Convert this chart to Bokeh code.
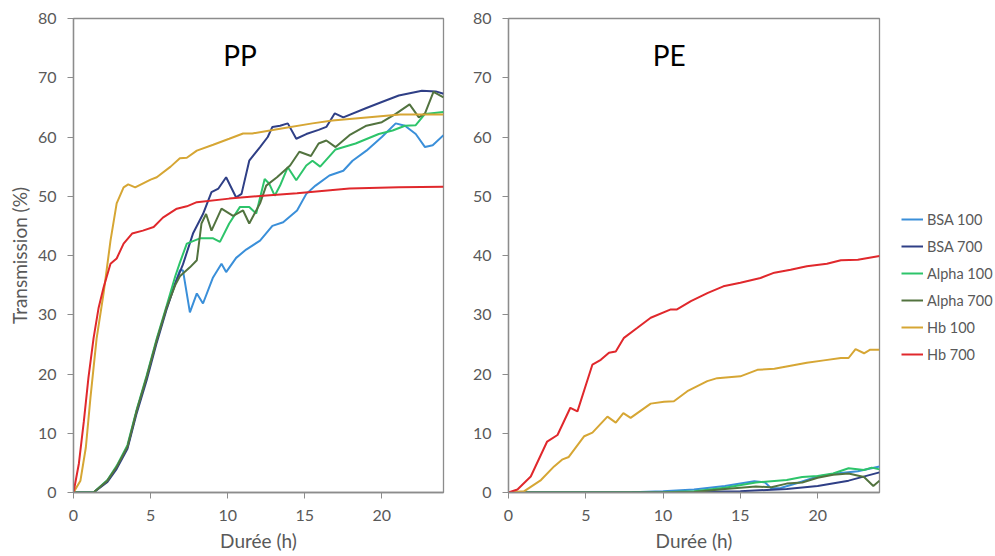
from bokeh.plotting import figure
from bokeh.models import Legend, LegendItem, FixedTicker, Label, Range1d
from bokeh.layouts import row
from bokeh.embed import file_html
from bokeh.resources import INLINE

# ---------------- data: PP panel ----------------
pp_bsa100_t = [0, 1.3, 2.2, 2.8, 3.5, 4.1, 4.75, 5.4, 6.05, 6.6, 6.9, 7.1, 7.55, 8.0, 8.4, 9.05, 9.6, 9.9,
               10.55, 11.2, 12.1, 12.9, 13.6, 14.5, 15.1, 15.7, 16.6, 17.5, 18.1, 19, 20, 20.9, 21.5, 22.2,
               22.8, 23.3, 24]
pp_bsa100_v = [0, 0, 2, 4.3, 7.7, 13.8, 19.5, 25.7, 31.3, 35.3, 37.5, 37.5, 30.4, 33.6, 31.9, 36.3, 38.6, 37.2,
               39.6, 41, 42.5, 45, 45.6, 47.6, 50.4, 51.8, 53.5, 54.3, 56, 57.7, 60, 62.3, 61.9, 60.5,
               58.3, 58.6, 60.3]

pp_bsa700_t = [0, 1.3, 2.2, 2.8, 3.5, 4.1, 4.75, 5.4, 6.05, 6.6, 7.1, 7.75, 8.4, 8.95, 9.4, 9.9, 10.55, 10.9,
               11.4, 12.1, 12.6, 12.9, 13.4, 13.9, 14.45, 15.1, 15.9, 16.4, 16.95, 17.5, 19, 20, 21.1, 22.6,
               23.5, 24]
pp_bsa700_v = [0, 0, 1.8, 4, 7.4, 13.4, 19, 25.3, 31, 35.3, 38.5, 43.7, 47, 50.7, 51.3, 53.2, 49.8, 50.4,
               56, 58.3, 60, 61.7, 61.9, 62.3, 59.7, 60.5, 61.2, 61.7, 64, 63.3, 64.9, 65.9, 67, 67.8,
               67.7, 67.3]

pp_alpha100_t = [0, 1.3, 2.2, 2.8, 3.5, 4.1, 4.75, 5.4, 6.05, 6.6, 6.9, 7.35, 8.2, 9.06, 9.5, 10.1, 10.8, 11.4,
                 11.85, 12.4, 12.7, 13.05, 13.4, 13.9, 14.45, 15.1, 15.5, 16.0, 17, 18.3, 19.8, 20.7, 21.5,
                 22.2, 22.8, 24]
pp_alpha100_v = [0, 0, 2.1, 4.5, 8, 14, 19.8, 26, 31.6, 36.5, 38.8, 42, 42.9, 42.9, 42.3, 45.4, 48.2, 48.2,
                 47.1, 52.9, 52.1, 50.1, 51.8, 54.9, 52.7, 55.2, 56, 55, 57.9, 58.9, 60.5, 61.1, 61.9,
                 62, 63.9, 64.2]

pp_alpha700_t = [0, 1.3, 2.2, 2.8, 3.5, 4.1, 4.75, 5.4, 6.05, 6.6, 6.9, 7.55, 8.0, 8.3, 8.6, 8.95, 9.6, 10.35,
                 11, 11.4, 12.1, 12.5, 13.2, 14.05, 14.65, 15.4, 15.9, 16.4, 17, 17.9, 19, 20, 20.9, 21.8,
                 22.4, 22.8, 23.35, 24]
pp_alpha700_v = [0, 0, 2, 4.3, 7.7, 13.8, 19.5, 25.7, 31.3, 35, 36.5, 38, 39.2, 45.4, 47, 44.2, 47.9, 46.7,
                 47.6, 45.4, 48.8, 51.8, 53.2, 55.2, 57.5, 56.8, 58.9, 59.4, 58.3, 60.3, 61.9, 62.5, 63.9, 65.5,
                 63.3, 64, 67.6, 66.7]

pp_hb100_t = [0, 0.45, 0.8, 1.1, 1.5, 1.95, 2.4, 2.8, 3.25, 3.55, 4.0, 5.0, 5.4, 6.3, 6.9, 7.35, 8.0, 9.06,
              10.1, 11, 11.6, 13.4, 15.5, 16.8, 19, 21.2, 24]
pp_hb100_v = [0, 2, 7.6, 16, 26, 33.6, 42.5, 48.8, 51.5, 52, 51.5, 52.8, 53.2, 55, 56.4, 56.5, 57.7, 58.7,
              59.7, 60.6, 60.6, 61.4, 62.3, 62.8, 63.3, 63.8, 63.8]

pp_hb700_t = [0, 0.35, 0.67, 0.97, 1.3, 1.63, 1.95, 2.4, 2.8, 3.25, 3.8, 4.5, 5.2, 5.8, 6.7, 7.35, 8, 10.1,
              12.3, 14.5, 17.9, 21.1, 24]
pp_hb700_v = [0, 4.9, 12, 19.4, 26, 31.2, 34.6, 38.6, 39.5, 42, 43.7, 44.2, 44.8, 46.4, 47.9, 48.3, 49, 49.6,
              50.1, 50.5, 51.3, 51.5, 51.6]

# ---------------- data: PE panel ----------------
pe_bsa100_t = [0, 8, 10, 12, 14, 15.9, 16.6, 17.0, 17.6, 18.7, 20, 21.5, 22.6, 24]
pe_bsa100_v = [0, 0.05, 0.2, 0.5, 1.1, 1.9, 1.7, 0.7, 0.75, 1.6, 2.7, 3.3, 3.6, 4.4]

pe_bsa700_t = [0, 10, 12, 15, 18, 20, 22, 24]
pe_bsa700_v = [0, 0, 0.1, 0.2, 0.6, 1.1, 2.0, 3.4]

pe_alpha100_t = [0, 10, 12, 14, 16, 18, 19, 20, 21, 22, 23, 23.5, 24]
pe_alpha100_v = [0, 0.05, 0.2, 0.8, 1.7, 2.1, 2.6, 2.8, 3.2, 4.1, 3.8, 4.2, 3.9]

pe_alpha700_t = [0, 10, 12, 14, 16, 17, 18, 19, 20, 21, 22, 23, 23.6, 24]
pe_alpha700_v = [0, 0, 0.1, 0.6, 1.0, 0.9, 1.5, 1.7, 2.5, 3.0, 3.2, 2.6, 1.1, 2.0]

pe_hb100_t = [0, 1.0, 2.1, 2.95, 3.5, 3.9, 4.9, 5.43, 6.4, 6.94, 7.43, 7.9, 9.2, 10.06, 10.7, 11.57, 12.86,
              13.5, 15, 16.1, 17.2, 18.25, 19.3, 20.4, 21.5, 22.0, 22.45, 23.0, 23.4, 24]
pe_hb100_v = [0, 0.2, 2.1, 4.4, 5.6, 6.0, 9.5, 10.1, 12.8, 11.8, 13.4, 12.6, 15.0, 15.3, 15.4, 17.1, 18.8,
              19.3, 19.6, 20.7, 20.9, 21.4, 21.9, 22.3, 22.7, 22.7, 24.2, 23.5, 24.1, 24.1]

pe_hb700_t = [0, 0.58, 1.44, 2.5, 3.17, 4.0, 4.46, 5.43, 5.97, 6.5, 6.94, 7.47, 8.34, 9.2, 10.5, 10.9, 11.8,
              12.9, 13.9, 15, 16.3, 17.2, 18.25, 19.3, 20.6, 21.5, 22.6, 24]
pe_hb700_v = [0, 0.5, 2.7, 8.6, 9.7, 14.3, 13.7, 21.6, 22.4, 23.6, 23.8, 26.1, 27.8, 29.5, 30.9, 30.9, 32.3,
              33.7, 34.8, 35.4, 36.2, 37.1, 37.6, 38.2, 38.6, 39.2, 39.3, 39.9]

series_names = ["BSA 100", "BSA 700", "Alpha 100", "Alpha 700", "Hb 100", "Hb 700"]
series_colors = ["#3A8FD9", "#2F3F86", "#2DC46A", "#52733F", "#D6A634", "#E0282C"]

x_ticks = [0, 5, 10, 15, 20]
y_ticks = [0, 10, 20, 30, 40, 50, 60, 70, 80]

pp_data = [(pp_bsa100_t, pp_bsa100_v), (pp_bsa700_t, pp_bsa700_v), (pp_alpha100_t, pp_alpha100_v),
           (pp_alpha700_t, pp_alpha700_v), (pp_hb100_t, pp_hb100_v), (pp_hb700_t, pp_hb700_v)]
pe_data = [(pe_bsa100_t, pe_bsa100_v), (pe_bsa700_t, pe_bsa700_v), (pe_alpha100_t, pe_alpha100_v),
           (pe_alpha700_t, pe_alpha700_v), (pe_hb100_t, pe_hb100_v), (pe_hb700_t, pe_hb700_v)]

FONT = "Lato"
AX = "#8C8C8C"
TXT = "#595959"


def make_fig(border_left, border_right, frame_w, ylabel):
    p = figure(frame_width=frame_w, frame_height=474, output_backend="svg", toolbar_location=None,
               x_range=Range1d(0, 24), y_range=Range1d(0, 80),
               min_border_left=border_left, min_border_right=border_right,
               min_border_top=18, min_border_bottom=64)
    p.grid.visible = False
    p.outline_line_color = AX
    p.outline_line_width = 1.3
    p.background_fill_color = "white"
    p.border_fill_color = "white"
    for ax in (p.xaxis[0], p.yaxis[0]):
        ax.axis_line_color = AX
        ax.axis_line_width = 1.3
        ax.major_tick_line_color = AX
        ax.major_tick_out = 6
        ax.major_tick_in = 0
        ax.minor_tick_line_color = None
        ax.major_label_text_font = FONT
        ax.major_label_text_font_size = "16px"
        ax.major_label_text_color = TXT
        ax.axis_label_text_font = FONT
        ax.axis_label_text_font_style = "normal"
        ax.axis_label_text_color = TXT
        ax.axis_label_text_font_size = "19px"
    p.xaxis.ticker = FixedTicker(ticks=x_ticks)
    p.yaxis.ticker = FixedTicker(ticks=y_ticks)
    p.xaxis.axis_label = "Durée (h)"
    p.xaxis.major_label_standoff = 11
    p.xaxis.axis_label_standoff = 5
    p.yaxis.major_label_standoff = 11
    if ylabel:
        p.yaxis.axis_label = ylabel
        p.yaxis.axis_label_standoff = 4
    return p


p1 = make_fig(73, 10, 370, "Transmission (%)")
p2 = make_fig(55, 110, 371, None)

for (t, v), c in zip(pp_data, series_colors):
    p1.line(t, v, line_color=c, line_width=2)

items = []
for (t, v), c, n in zip(pe_data, series_colors, series_names):
    r = p2.line(t, v, line_color=c, line_width=2)
    items.append(LegendItem(label=n, renderers=[r]))

p1.add_layout(Label(x=10.8, y=73.8, text="PP", text_align="center", text_baseline="middle",
                    text_font=FONT, text_font_size="28px", text_color="black"))
p2.add_layout(Label(x=10.4, y=73.8, text="PE", text_align="center", text_baseline="middle",
                    text_font=FONT, text_font_size="28px", text_color="black"))

legend = Legend(items=items, location=(22, 128), padding=0, margin=0, spacing=7,
                glyph_width=22, glyph_height=20, label_height=20, label_standoff=4,
                label_text_font=FONT, label_text_font_size="14.5px", label_text_color=TXT,
                background_fill_alpha=0, border_line_alpha=0)
p2.add_layout(legend, "right")

layout = row(p1, p2)
open("out.html", "w").write(file_html(layout, INLINE))
